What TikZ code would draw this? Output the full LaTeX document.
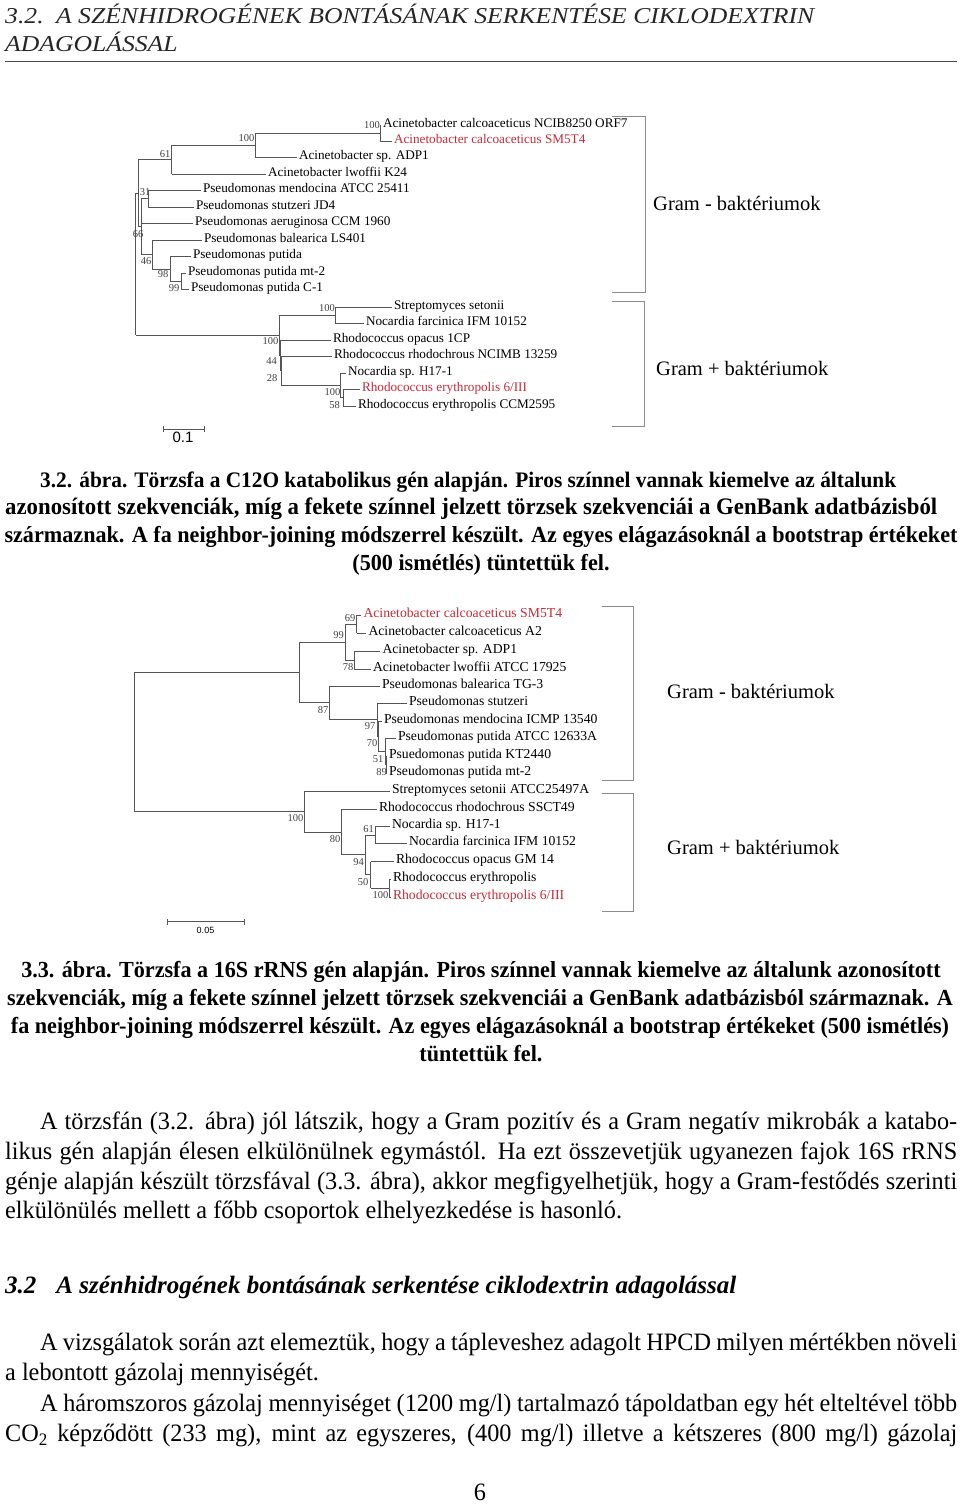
\documentclass[tikz,border=0pt]{standalone}
\usepackage{fontspec}
\setmainfont{Liberation Serif}
\newfontfamily\condfont{Liberation Serif}[FakeStretch=0.97]
\newfontfamily\capfont{Liberation Serif}[FakeStretch=0.963]
\newfontfamily\headfont{Liberation Serif}[FakeStretch=1.0]
\newfontfamily\hdrfont{Liberation Serif}[FakeStretch=1.13]
\newfontfamily\sansf{Liberation Sans}
\definecolor{treered}{RGB}{196,42,56}
\definecolor{treegray}{RGB}{85,85,85}
\definecolor{brgray}{RGB}{140,140,140}
\newcommand\vbar[3]{\draw[br] (#1 |- #2) -- (#1 |- #3);}
\newcommand\hbr[2]{\draw[br] (#1 |- #2) -- (#2);}
\begin{document}
\begin{tikzpicture}[x=1pt,y=-1pt,
  br/.style={draw=treegray, line width=1pt},
  brk/.style={draw=brgray, line width=0.9pt},
  lfa/.style={anchor=mid west, inner xsep=2.5pt, inner ysep=0pt, outer sep=0pt, font=\fontsize{13.2}{14}\selectfont},
  lfb/.style={anchor=mid west, inner xsep=2.5pt, inner ysep=0pt, outer sep=0pt, font=\fontsize{13.7}{14}\selectfont},
  redtxt/.style={text=treered},
  bs/.style={anchor=mid east, inner sep=0pt, font=\fontsize{10.5}{11}\selectfont, text=black!75},
  grm/.style={anchor=mid west, inner sep=0pt, font=\fontsize{20.5}{22}\selectfont},
  body/.style={anchor=mid west, inner sep=0pt, font=\condfont\fontsize{25}{30}\selectfont},
  captxt/.style={anchor=mid, inner sep=0pt, font=\capfont\bfseries\fontsize{23}{28}\selectfont},
  hdr/.style={anchor=base west, inner sep=0pt, font=\hdrfont\itshape\fontsize{22.7}{26}\selectfont, text=black!85},
  scl/.style={anchor=mid, inner sep=0pt, font=\sansf\fontsize{15}{16}\selectfont}
]
\useasboundingbox (0,0) rectangle (960,1509);

% ---------------- header ----------------
\node[hdr] (h1) at (5,23.3) {3.2.\hspace{0.55em}A SZÉNHIDROGÉNEK BONTÁSÁNAK SERKENTÉSE CIKLODEXTRIN};
\node[hdr] (h2) at (5,51.7) {ADAGOLÁSSAL};
\draw[line width=1.3pt, black!70] (5,61.5) -- (957,61.5);

% ================= TREE 1 =================
\node[lfa] (a1) at (380.5,125.5) {Acinetobacter calcoaceticus NCIB8250 ORF7};
\node[lfa,redtxt] (a2) at (391.5,141) {Acinetobacter calcoaceticus SM5T4};
\node[lfa] (a3) at (296.5,157) {Acinetobacter sp. ADP1};
\node[lfa] (a4) at (265.5,174) {Acinetobacter lwoffii K24};
\node[lfa] (a5) at (200.5,190) {Pseudomonas mendocina ATCC 25411};
\node[lfa] (a6) at (193.5,207) {Pseudomonas stutzeri JD4};
\node[lfa] (a7) at (192.5,223.3) {Pseudomonas aeruginosa CCM 1960};
\node[lfa] (a8) at (201.5,240.7) {Pseudomonas balearica LS401};
\node[lfa] (a9) at (190.5,256.7) {Pseudomonas putida};
\node[lfa] (a10) at (185.5,273.3) {Pseudomonas putida mt-2};
\node[lfa] (a11) at (188.5,289.5) {Pseudomonas putida C-1};
\node[lfa] (a12) at (391.5,307.3) {Streptomyces setonii};
\node[lfa] (a13) at (363.5,323.3) {Nocardia farcinica IFM 10152};
\node[lfa] (a14) at (330.5,340) {Rhodococcus opacus 1CP};
\node[lfa] (a15) at (331.5,356) {Rhodococcus rhodochrous NCIMB 13259};
\node[lfa] (a16) at (345.5,373.3) {Nocardia sp. H17-1};
\node[lfa,redtxt] (a17) at (359.5,389.5) {Rhodococcus erythropolis 6/III};
\node[lfa] (a18) at (355.5,406.3) {Rhodococcus erythropolis CCM2595};
\coordinate (c100) at (380,133.25);
\coordinate (b100) at (255,145.1);
\coordinate (n61) at (171.7,159.6);
\coordinate (n31) at (148,198.5);
\coordinate (n99) at (181,281.4);
\coordinate (n98) at (170,269);
\coordinate (n46) at (152.3,254.85);
\coordinate (p66) at (141,226.7);
\coordinate (gneg1) at (138,193.1);
\coordinate (e58) at (343.3,397.9);
\coordinate (e100) at (340.7,385.6);
\coordinate (n28) at (281.5,370.8);
\coordinate (s100) at (335,315.3);
\coordinate (n44) at (280.5,355.4);
\coordinate (g100) at (279.3,335.35);
\coordinate (root1) at (135.7,264);
\vbar{c100}{a1.mid west}{a2.mid west}
\hbr{c100}{a1.mid west}\hbr{c100}{a2.mid west}
\vbar{b100}{c100}{a3.mid west}
\hbr{b100}{c100}\hbr{b100}{a3.mid west}
\vbar{n61}{b100}{a4.mid west}
\hbr{n61}{b100}\hbr{n61}{a4.mid west}
\vbar{n31}{a5.mid west}{a6.mid west}
\hbr{n31}{a5.mid west}\hbr{n31}{a6.mid west}
\vbar{n99}{a10.mid west}{a11.mid west}
\hbr{n99}{a10.mid west}\hbr{n99}{a11.mid west}
\vbar{n98}{a9.mid west}{n99}
\hbr{n98}{a9.mid west}\hbr{n98}{n99}
\vbar{n46}{a8.mid west}{n98}
\hbr{n46}{a8.mid west}\hbr{n46}{n98}
\vbar{p66}{n31}{n46}
\hbr{p66}{n31}\hbr{p66}{a7.mid west}\hbr{p66}{n46}
\vbar{gneg1}{n61}{p66}
\hbr{gneg1}{n61}\hbr{gneg1}{p66}
\vbar{e58}{a17.mid west}{a18.mid west}
\hbr{e58}{a17.mid west}\hbr{e58}{a18.mid west}
\vbar{e100}{a16.mid west}{e58}
\hbr{e100}{a16.mid west}\hbr{e100}{e58}
\vbar{n28}{a15.mid west}{e100}
\hbr{n28}{a15.mid west}\hbr{n28}{e100}
\vbar{s100}{a12.mid west}{a13.mid west}
\hbr{s100}{a12.mid west}\hbr{s100}{a13.mid west}
\vbar{n44}{a14.mid west}{n28}
\hbr{n44}{a14.mid west}\hbr{n44}{n28}
\vbar{g100}{s100}{n44}
\hbr{g100}{s100}\hbr{g100}{n44}
\vbar{root1}{gneg1}{g100}
\hbr{root1}{gneg1}\hbr{root1}{g100}
\node[bs] (v1) at (380,126.7) {100};
\node[bs] (v2) at (254.5,139.5) {100};
\node[bs] (v3) at (170.5,155) {61};
\node[bs] (v4) at (150.5,193.2) {31};
\node[bs] (v5) at (143.5,235) {66};
\node[bs] (v6) at (151.5,262.7) {46};
\node[bs] (v7) at (168.5,275) {98};
\node[bs] (v8) at (179.5,289.3) {99};
\node[bs] (v9) at (335,309.5) {100};
\node[bs] (v10) at (278.5,342.7) {100};
\node[bs] (v11) at (277,362.7) {44};
\node[bs] (v12) at (277.5,379.3) {28};
\node[bs] (v13) at (340.5,393.3) {100};
\node[bs] (v14) at (340,406.7) {58};
\draw[brk] (611.7,116) -- (645,116) -- (645,292.3) -- (611.7,292.3);
\draw[brk] (611.7,301.3) -- (644,301.3) -- (644,426.7) -- (611.7,426.7);
\node[grm] (g1) at (653,208.3) {Gram - baktériumok};
\node[grm] (g2) at (656,373.3) {Gram + baktériumok};
\draw[treegray, line width=1pt] (163.3,429.3) -- (204.3,429.3);
\draw[treegray, line width=1pt] (163.3,426.3) -- (163.3,432.3) (204.3,426.3) -- (204.3,432.3);
\node[scl] (sc1) at (183,440) {0.1};

% ---------------- caption 1 ----------------
\node[captxt, anchor=mid west] (k1) at (40,485) {\resizebox{856pt}{!}{3.2. ábra. Törzsfa a C12O katabolikus gén alapján. Piros színnel vannak kiemelve az általunk}};
\node[captxt, anchor=mid west] (k2) at (5,512) {\resizebox{932pt}{!}{azonosított szekvenciák, míg a fekete színnel jelzett törzsek szekvenciái a GenBank adatbázisból}};
\node[captxt] (k3) at (481,540) {származnak. A fa neighbor-joining módszerrel készült. Az egyes elágazásoknál a bootstrap értékeket};
\node[captxt] (k4) at (481,568) {(500 ismétlés) tüntettük fel.};

% ================= TREE 2 =================
\node[lfb,redtxt] (b1) at (361,615) {Acinetobacter calcoaceticus SM5T4};
\node[lfb] (b2) at (366,633) {Acinetobacter calcoaceticus A2};
\node[lfb] (b3) at (380,651) {Acinetobacter sp. ADP1};
\node[lfb] (b4) at (370.5,669) {Acinetobacter lwoffii ATCC 17925};
\node[lfb] (b5) at (379.5,686) {Pseudomonas balearica TG-3};
\node[lfb] (b6) at (406.5,703.5) {Pseudomonas stutzeri};
\node[lfb] (b7) at (381.5,721) {Pseudomonas mendocina ICMP 13540};
\node[lfb] (b8) at (395.5,738) {Pseudomonas putida ATCC 12633A};
\node[lfb] (b9) at (386.5,756) {Psuedomonas putida KT2440};
\node[lfb] (b10) at (386.5,773.5) {Pseudomonas putida mt-2};
\node[lfb] (b11) at (389.5,791.5) {Streptomyces setonii ATCC25497A};
\node[lfb] (b12) at (376.5,809) {Rhodococcus rhodochrous SSCT49};
\node[lfb] (b13) at (389.5,826.5) {Nocardia sp. H17-1};
\node[lfb] (b14) at (406.5,843.5) {Nocardia farcinica IFM 10152};
\node[lfb] (b15) at (393.5,861.5) {Rhodococcus opacus GM 14};
\node[lfb] (b16) at (390.5,879.5) {Rhodococcus erythropolis};
\node[lfb,redtxt] (b17) at (390.5,897) {Rhodococcus erythropolis 6/III};
\coordinate (m69) at (356.7,624);
\coordinate (m78) at (354.3,660);
\coordinate (m99) at (345,642);
\coordinate (m89) at (386.5,764.75);
\coordinate (m51) at (385.7,751.4);
\coordinate (m70) at (378.3,736.2);
\coordinate (m97) at (377.3,719.85);
\coordinate (m87) at (329.3,702.9);
\coordinate (gneg2) at (299.3,672.45);
\coordinate (m100b) at (389.3,888.25);
\coordinate (m50) at (370.7,874.9);
\coordinate (m61) at (375,835);
\coordinate (m94) at (365.7,854.95);
\coordinate (m80) at (341.7,832);
\coordinate (gpos2) at (304,811.75);
\coordinate (root2) at (134,742);
\vbar{m69}{b1.mid west}{b2.mid west}
\hbr{m69}{b1.mid west}\hbr{m69}{b2.mid west}
\vbar{m78}{b3.mid west}{b4.mid west}
\hbr{m78}{b3.mid west}\hbr{m78}{b4.mid west}
\vbar{m99}{m69}{m78}
\hbr{m99}{m69}\hbr{m99}{m78}
\vbar{m89}{b9.mid west}{b10.mid west}
\hbr{m89}{b9.mid west}\hbr{m89}{b10.mid west}
\vbar{m51}{b8.mid west}{m89}
\hbr{m51}{b8.mid west}\hbr{m51}{m89}
\vbar{m70}{b7.mid west}{m51}
\hbr{m70}{b7.mid west}\hbr{m70}{m51}
\vbar{m97}{b6.mid west}{m70}
\hbr{m97}{b6.mid west}\hbr{m97}{m70}
\vbar{m87}{b5.mid west}{m97}
\hbr{m87}{b5.mid west}\hbr{m87}{m97}
\vbar{gneg2}{m99}{m87}
\hbr{gneg2}{m99}\hbr{gneg2}{m87}
\vbar{m100b}{b16.mid west}{b17.mid west}
\hbr{m100b}{b16.mid west}\hbr{m100b}{b17.mid west}
\vbar{m50}{b15.mid west}{m100b}
\hbr{m50}{b15.mid west}\hbr{m50}{m100b}
\vbar{m61}{b13.mid west}{b14.mid west}
\hbr{m61}{b13.mid west}\hbr{m61}{b14.mid west}
\vbar{m94}{m61}{m50}
\hbr{m94}{m61}\hbr{m94}{m50}
\vbar{m80}{b12.mid west}{m94}
\hbr{m80}{b12.mid west}\hbr{m80}{m94}
\vbar{gpos2}{b11.mid west}{m80}
\hbr{gpos2}{b11.mid west}\hbr{gpos2}{m80}
\vbar{root2}{gneg2}{gpos2}
\hbr{root2}{gneg2}\hbr{root2}{gpos2}
\node[bs] (w1) at (355.5,619.3) {69};
\node[bs] (w2) at (344,636) {99};
\node[bs] (w3) at (353.5,668.3) {78};
\node[bs] (w4) at (328.5,710.7) {87};
\node[bs] (w5) at (375.5,727.3) {97};
\node[bs] (w6) at (377.5,744.3) {70};
\node[bs] (w7) at (383.5,760) {51};
\node[bs] (w8) at (387,772.7) {89};
\node[bs] (w9) at (303.5,819.3) {100};
\node[bs] (w10) at (340.5,840) {80};
\node[bs] (w11) at (374,830) {61};
\node[bs] (w12) at (364,863.3) {94};
\node[bs] (w13) at (368.5,883.3) {50};
\node[bs] (w14) at (388.5,896) {100};
\draw[brk] (601.7,606.7) -- (633.3,606.7) -- (633.3,780) -- (601.7,780);
\draw[brk] (601.7,793.3) -- (633.3,793.3) -- (633.3,911.7) -- (601.7,911.7);
\node[grm] (g3) at (667,696) {Gram - baktériumok};
\node[grm] (g4) at (667,851.7) {Gram + baktériumok};
\draw[treegray, line width=1pt] (167.7,921.7) -- (244,921.7);
\draw[treegray, line width=1pt] (167.7,918.7) -- (167.7,924.7) (244,918.7) -- (244,924.7);
\node[scl, font=\sansf\fontsize{9}{10}\selectfont] (sc2) at (205.5,931) {0.05};

% ---------------- caption 2 ----------------
\node[captxt] (q1) at (481,975) {3.3. ábra. Törzsfa a 16S rRNS gén alapján. Piros színnel vannak kiemelve az általunk azonosított};
\node[captxt] (q2) at (480,1003) {szekvenciák, míg a fekete színnel jelzett törzsek szekvenciái a GenBank adatbázisból származnak. A};
\node[captxt] (q3) at (480,1031) {fa neighbor-joining módszerrel készült. Az egyes elágazásoknál a bootstrap értékeket (500 ismétlés)};
\node[captxt] (q4) at (481,1059) {tüntettük fel.};

% ---------------- body ----------------
\node[body] (t1) at (40,1127) {\makebox[917pt][s]{A törzsfán (3.2. ábra) jól látszik, hogy a Gram pozitív és a Gram negatív mikrobák a katabo-}};
\node[body] (t2) at (5,1157) {\makebox[952pt][s]{likus gén alapján élesen elkülönülnek egymástól. Ha ezt összevetjük ugyanezen fajok 16S rRNS}};
\node[body] (t3) at (5,1187) {\makebox[952pt][s]{génje alapján készült törzsfával (3.3. ábra), akkor megfigyelhetjük, hogy a Gram-festődés szerinti}};
\node[body] (t4) at (5,1216) {elkülönülés mellett a főbb csoportok elhelyezkedése is hasonló.};
\node[body, font=\headfont\bfseries\itshape\fontsize{25}{30}\selectfont] (t5) at (5,1291) {3.2\hspace{0.8em}A szénhidrogének bontásának serkentése ciklodextrin adagolással};
\node[body] (t6) at (40,1348) {\makebox[917pt][s]{A vizsgálatok során azt elemeztük, hogy a tápleveshez adagolt HPCD milyen mértékben növeli}};
\node[body] (t7) at (5,1378) {a lebontott gázolaj mennyiségét.};
\node[body] (t8) at (40,1409) {\makebox[917pt][s]{A háromszoros gázolaj mennyiséget (1200 mg/l) tartalmazó tápoldatban egy hét elteltével több}};
\node[body] (t9) at (5,1439) {\makebox[952pt][s]{CO\textsubscript{2} képződött (233 mg), mint az egyszeres, (400 mg/l) illetve a kétszeres (800 mg/l) gázolaj}};
\node[body, anchor=mid] (t10) at (480,1498) {6};
\end{tikzpicture}
\end{document}
